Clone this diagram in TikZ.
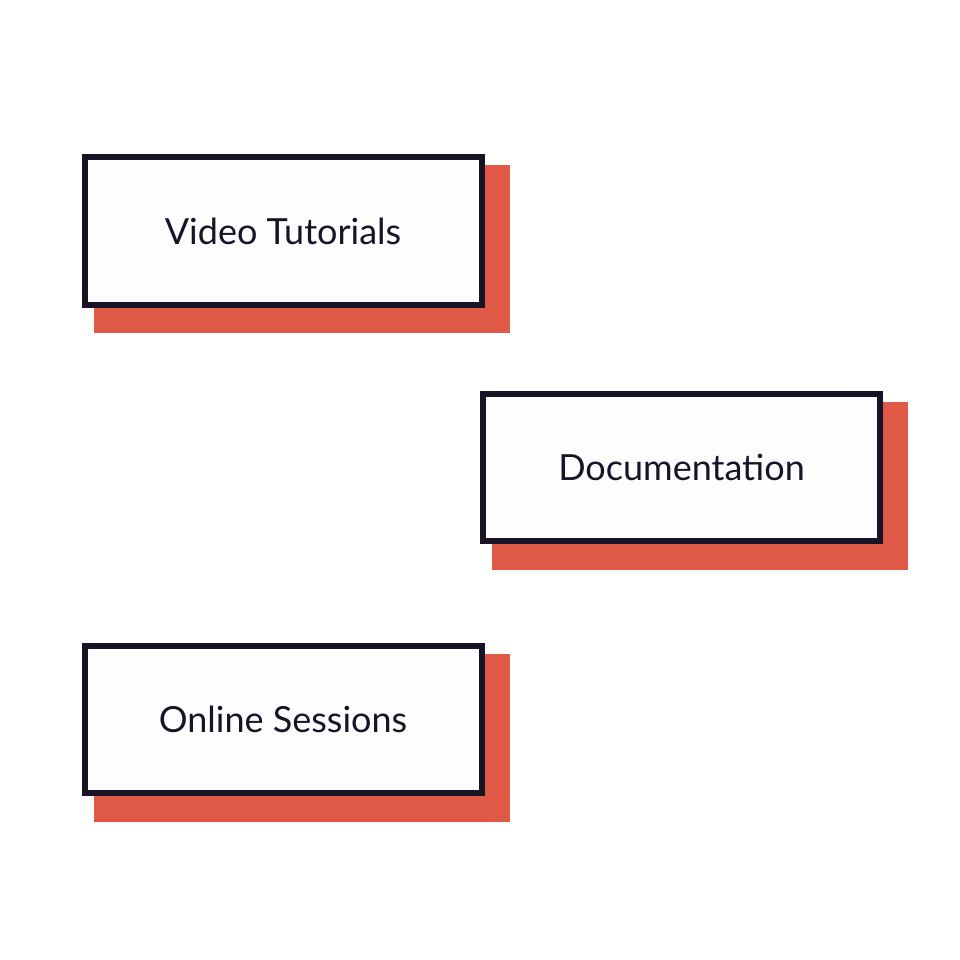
\documentclass[tikz,border=0pt]{standalone}
\usepackage{fontspec}
\setmainfont{Lato}
\usepackage{tikz}
\usetikzlibrary{calc,backgrounds}
\definecolor{inkNavy}{RGB}{24,20,38}
\definecolor{shadowRed}{RGB}{224,89,70}
\definecolor{paperWhite}{RGB}{253,253,253}

\begin{document}
\begin{tikzpicture}[
  x=1pt, y=-1pt,
  card/.style={draw=inkNavy, line width=6pt, fill=paperWhite, minimum width=397pt, minimum height=147pt, inner sep=0pt, text=inkNavy, font=\fontsize{36}{42}\selectfont},
  shade/.style={fill=shadowRed}
]
  \useasboundingbox (0,0) rectangle (960,960);
  \node[card] (video) at (283,231) {Video Tutorials};
  \node[card] (docs) at (681.5,467.5) {Documentation};
  \node[card] (online) at (283,719.5) {Online Sessions};

  \begin{pgfonlayer}{background}
    \foreach \card in {video,docs,online}
      \fill[shade] ($(\card.north west)+(12,10.5)$) rectangle ($(\card.south east)+(25,25.5)$);
  \end{pgfonlayer}
\end{tikzpicture}
\end{document}
